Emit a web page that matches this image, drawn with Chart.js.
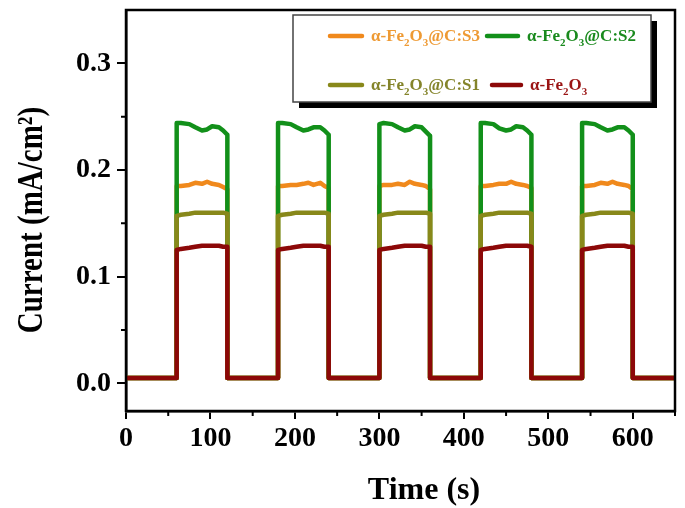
<!DOCTYPE html>
<html><head><meta charset="utf-8">
<script src="https://cdn.jsdelivr.net/npm/chart.js@4.4.1/dist/chart.umd.min.js"></script>
<style>html,body{margin:0;padding:0;background:#fff}#wrap{width:685px;height:508px}</style>
</head><body><div id="wrap"><canvas id="c" width="685" height="508"></canvas></div>
<script>
const xTickValues = [0, 100, 200, 300, 400, 500, 600];
const xMinorTicks = [50, 150, 250, 350, 450, 550, 650];
const yTickValues = [0.0, 0.1, 0.2, 0.3];
const yMinorTicks = [0.05, 0.15, 0.25];
const xTitle = 'Time (s)';
const yTitle = 'Current (mA/cm²)';
const seriesLabels = ['α-Fe₂O₃@C:S3', 'α-Fe₂O₃@C:S2', 'α-Fe₂O₃@C:S1', 'α-Fe₂O₃'];
const seriesColors = ['#F0891C', '#12901A', '#88881A', '#8C0808'];
const textColors  = ['#EE9A34', '#1A8A1E', '#84842A', '#9A1414'];
const pulseStarts = [60, 180, 300, 420, 540];
const pulseOffsets = [0, 5, 15, 22, 30, 36, 42, 50, 55, 60];
const darkCurrent = 0.005;
const timeEnd = 650;

const s3Pulses = [
  [0.185, 0.185, 0.186, 0.188, 0.187, 0.189, 0.187, 0.186, 0.184, 0.182],
  [0.185, 0.185, 0.186, 0.186, 0.187, 0.188, 0.186, 0.188, 0.185, 0.183],
  [0.185, 0.186, 0.186, 0.187, 0.186, 0.189, 0.187, 0.186, 0.185, 0.182],
  [0.185, 0.185, 0.186, 0.187, 0.187, 0.189, 0.187, 0.186, 0.185, 0.183],
  [0.185, 0.185, 0.186, 0.188, 0.187, 0.189, 0.187, 0.186, 0.185, 0.182]
];
const s2Pulses = [
  [0.244, 0.244, 0.243, 0.240, 0.237, 0.238, 0.241, 0.240, 0.237, 0.233],
  [0.244, 0.244, 0.243, 0.240, 0.237, 0.238, 0.240, 0.240, 0.237, 0.233],
  [0.243, 0.244, 0.243, 0.240, 0.237, 0.238, 0.241, 0.240, 0.236, 0.232],
  [0.244, 0.244, 0.243, 0.239, 0.237, 0.238, 0.241, 0.240, 0.237, 0.233],
  [0.244, 0.244, 0.243, 0.240, 0.237, 0.238, 0.240, 0.240, 0.237, 0.233]
];
const s1Pulses = [
  [0.157, 0.158, 0.159, 0.160, 0.160, 0.160, 0.160, 0.160, 0.160, 0.159],
  [0.157, 0.158, 0.159, 0.160, 0.160, 0.160, 0.160, 0.160, 0.160, 0.159],
  [0.157, 0.158, 0.159, 0.160, 0.160, 0.160, 0.160, 0.160, 0.160, 0.159],
  [0.157, 0.158, 0.159, 0.160, 0.160, 0.160, 0.160, 0.160, 0.160, 0.159],
  [0.157, 0.158, 0.159, 0.160, 0.160, 0.160, 0.160, 0.160, 0.160, 0.159]
];
const fePulses = [
  [0.125, 0.126, 0.127, 0.128, 0.129, 0.129, 0.129, 0.129, 0.128, 0.128],
  [0.125, 0.126, 0.127, 0.128, 0.129, 0.129, 0.129, 0.129, 0.128, 0.128],
  [0.125, 0.126, 0.127, 0.128, 0.129, 0.129, 0.129, 0.129, 0.128, 0.128],
  [0.125, 0.126, 0.127, 0.128, 0.129, 0.129, 0.129, 0.129, 0.129, 0.128],
  [0.125, 0.126, 0.127, 0.128, 0.129, 0.129, 0.129, 0.129, 0.128, 0.128]
];
const allPulses = [s3Pulses, s2Pulses, s1Pulses, fePulses];
const drawOrder = [3, 2, 1, 0]; // red on top

function buildSeries(pulses) {
  const onTime = pulseOffsets[pulseOffsets.length - 1];
  const pts = [{x: 0, y: darkCurrent}];
  pulseStarts.forEach((s, k) => {
    pts.push({x: s, y: darkCurrent});
    pulseOffsets.forEach((o, i) => pts.push({x: s + o, y: pulses[k][i]}));
    pts.push({x: s + onTime, y: darkCurrent});
  });
  pts.push({x: timeEnd, y: darkCurrent});
  return pts;
}

const SERIF = '"Liberation Serif", "Times New Roman", serif';

function drawRichText(ctx, text, x, y, size, color) {
  const subMap = {'₀':'0','₁':'1','₂':'2','₃':'3','₄':'4','₅':'5','₆':'6','₇':'7','₈':'8','₉':'9'};
  ctx.fillStyle = color;
  ctx.textBaseline = 'alphabetic';
  ctx.textAlign = 'left';
  let cx = x;
  for (const ch of text) {
    if (subMap[ch]) {
      ctx.font = 'bold ' + Math.round(size * 0.62) + 'px ' + SERIF;
      ctx.fillText(subMap[ch], cx, y + size * 0.3);
      cx += ctx.measureText(subMap[ch]).width;
    } else {
      ctx.font = 'bold ' + size + 'px ' + SERIF;
      ctx.fillText(ch, cx, y);
      cx += ctx.measureText(ch).width;
    }
  }
}

const decorPlugin = {
  id: 'decor',
  afterDraw(chart) {
    const ctx = chart.ctx;
    const a = chart.chartArea;
    const xs = chart.scales.x, ys = chart.scales.y;
    ctx.save();
    ctx.strokeStyle = '#000';
    ctx.lineWidth = 2.5;
    ctx.strokeRect(a.left, a.top, a.right - a.left, a.bottom - a.top);
    // minor ticks
    ctx.lineWidth = 2;
    ctx.beginPath();
    xMinorTicks.forEach(v => {
      const px = xs.getPixelForValue(v);
      ctx.moveTo(px, a.bottom); ctx.lineTo(px, a.bottom + 5);
    });
    yMinorTicks.forEach(v => {
      const py = ys.getPixelForValue(v);
      ctx.moveTo(a.left, py); ctx.lineTo(a.left - 5, py);
    });
    ctx.stroke();

    // axis titles
    ctx.fillStyle = '#000';
    ctx.textAlign = 'center';
    ctx.textBaseline = 'middle';
    ctx.font = 'bold 32px ' + SERIF;
    ctx.fillText(xTitle, a.left + 298, a.bottom + 80);
    ctx.save();
    ctx.translate(a.left - 93, a.top + 210);
    ctx.rotate(-Math.PI / 2);
    ctx.scale(1, 1.25);
    ctx.font = 'bold 29px ' + SERIF;
    ctx.fillText(yTitle, 0, 0);
    ctx.restore();

    // legend
    const bx = a.left + 167, by = a.top + 5, bw = 358, bh = 87;
    ctx.fillStyle = '#000';
    ctx.fillRect(bx + 6, by + 6, bw, bh);
    ctx.fillStyle = '#fff';
    ctx.fillRect(bx, by, bw, bh);
    ctx.strokeStyle = '#444';
    ctx.lineWidth = 1.5;
    ctx.strokeRect(bx, by, bw, bh);
    const items = [
      {i: 0, lx: bx + 37, ly: by + 21, tx: bx + 78},
      {i: 1, lx: bx + 194, ly: by + 21, tx: bx + 234},
      {i: 2, lx: bx + 37, ly: by + 70, tx: bx + 78},
      {i: 3, lx: bx + 199, ly: by + 70, tx: bx + 237}
    ];
    items.forEach(it => {
      ctx.strokeStyle = seriesColors[it.i];
      ctx.lineWidth = 4.5;
      ctx.lineCap = 'round';
      ctx.beginPath();
      ctx.moveTo(it.lx, it.ly);
      ctx.lineTo(it.tx - 9, it.ly);
      ctx.stroke();
      drawRichText(ctx, seriesLabels[it.i], it.tx, it.ly + 5, 17, textColors[it.i]);
    });
    ctx.restore();
  }
};

new Chart(document.getElementById('c'), {
  type: 'line',
  data: {
    datasets: allPulses.map((p, i) => ({
      label: seriesLabels[i],
      data: buildSeries(p),
      borderColor: seriesColors[i],
      backgroundColor: seriesColors[i],
      borderWidth: 4.5,
      pointRadius: 0,
      tension: 0,
      fill: false,
      borderJoinStyle: 'round',
      borderCapStyle: 'round',
      order: drawOrder[i]
    }))
  },
  options: {
    responsive: false,
    animation: false,
    devicePixelRatio: 1,
    layout: {padding: {top: 10, right: 10, left: 0, bottom: 0}},
    plugins: {legend: {display: false}, tooltip: {enabled: false}},
    scales: {
      x: {
        type: 'linear',
        min: 0, max: 650,
        afterBuildTicks: s => { s.ticks = xTickValues.map(v => ({value: v})); },
        afterFit: s => { s.height = 97; s.paddingLeft = 0; s.paddingRight = 0; },
        border: {color: '#000', width: 2.5},
        grid: {drawOnChartArea: false, drawTicks: true, tickLength: 8, color: '#000', lineWidth: 2},
        ticks: {color: '#000', padding: 3, font: {family: SERIF, size: 28, weight: 'bold'}, maxRotation: 0,
          callback: v => String(v)},
        title: {display: false}
      },
      y: {
        type: 'linear',
        min: -0.026, max: 0.35,
        afterBuildTicks: s => { s.ticks = yTickValues.map(v => ({value: v})); },
        afterFit: s => { s.width = 126; s.paddingTop = 0; s.paddingBottom = 0; },
        border: {color: '#000', width: 2.5},
        grid: {drawOnChartArea: false, drawTicks: true, tickLength: 9, color: '#000', lineWidth: 2},
        ticks: {color: '#000', padding: 6, font: {family: SERIF, size: 28, weight: 'bold'},
          callback: v => Number(v).toFixed(1)},
        title: {display: false}
      }
    }
  },
  plugins: [decorPlugin]
});
</script></body></html>
